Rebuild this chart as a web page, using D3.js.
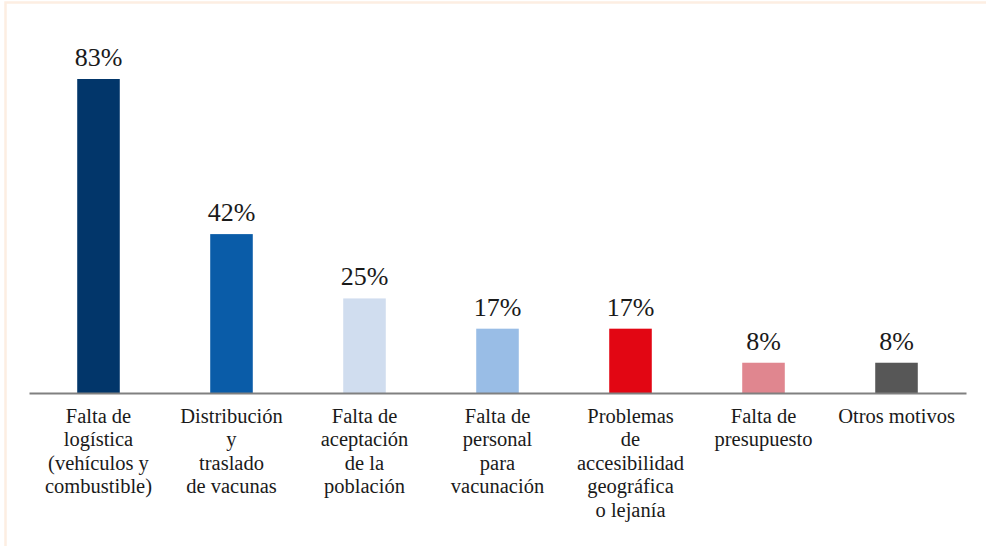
<!DOCTYPE html>
<html>
<head>
<meta charset="utf-8">
<script src="https://cdn.jsdelivr.net/npm/d3@7"></script>
<style>
  body { margin: 0; background: #fff; }
</style>
</head>
<body>
<div id="chart"></div>
<script>
// data
var categories = [
  "Falta de\nlogística\n(vehículos y\ncombustible)",
  "Distribución\ny\ntraslado\nde vacunas",
  "Falta de\naceptación\nde la\npoblación",
  "Falta de\npersonal\npara\nvacunación",
  "Problemas\nde\naccesibilidad\ngeográfica\no lejanía",
  "Falta de\npresupuesto",
  "Otros motivos"
];
var values = [83, 42, 25, 17, 17, 8, 8];
var colors = ["#02366a", "#0a5ca8", "#d0ddef", "#99bde6", "#e20613", "#e0868f", "#575757"];

var width = 986, height = 546;
var font = "'Liberation Serif', 'Times New Roman', Times, 'DejaVu Serif', serif";

var svg = d3.select("#chart")
  .append("svg")
  .attr("width", width)
  .attr("height", height)
  .style("font-family", font);

// light frame
svg.append("rect")
  .attr("x", 5.5)
  .attr("y", 2.5)
  .attr("width", width + 10)
  .attr("height", height + 10)
  .attr("fill", "none")
  .attr("stroke", "#fdeee2")
  .attr("stroke-width", 2.5);

var x = d3.scaleBand()
  .domain(categories)
  .range([29, 966])
  .paddingInner(0.68)
  .paddingOuter(0.3625);

var y = d3.scaleLinear()
  .domain([0, 83])
  .range([393, 79]);

// bars
svg.append("g")
  .selectAll("rect")
  .data(values)
  .enter()
  .append("rect")
  .attr("x", (d, i) => x(categories[i]))
  .attr("y", d => y(d))
  .attr("width", x.bandwidth())
  .attr("height", d => y(0) - y(d))
  .attr("fill", (d, i) => colors[i]);

// value labels
svg.append("g")
  .selectAll("text")
  .data(values)
  .enter()
  .append("text")
  .attr("x", (d, i) => x(categories[i]) + x.bandwidth() / 2)
  .attr("y", d => y(d) - 13)
  .attr("text-anchor", "middle")
  .style("font-family", font)
  .style("font-size", "26px")
  .style("fill", "#1a1a1a")
  .text(d => d + "%");

// x axis
var xAxis = d3.axisBottom(x).tickSize(0).tickFormat("");
var gx = svg.append("g")
  .attr("transform", `translate(0, ${y(0)})`)
  .call(xAxis)
  .attr("font-family", null);
gx.select(".domain")
  .attr("stroke", "#808080")
  .attr("stroke-width", 2);
gx.selectAll(".tick text").remove();

// multi-line category labels
gx.selectAll(".tick")
  .append("text")
  .attr("text-anchor", "middle")
  .style("font-family", font)
  .style("font-size", "20.5px")
  .style("fill", "#1a1a1a")
  .each(function(d) {
    var t = d3.select(this);
    d.split("\n").forEach(function(line, j) {
      t.append("tspan")
        .attr("x", 0)
        .attr("y", 30 + j * 23.4)
        .text(line);
    });
  });
</script>
</body>
</html>
